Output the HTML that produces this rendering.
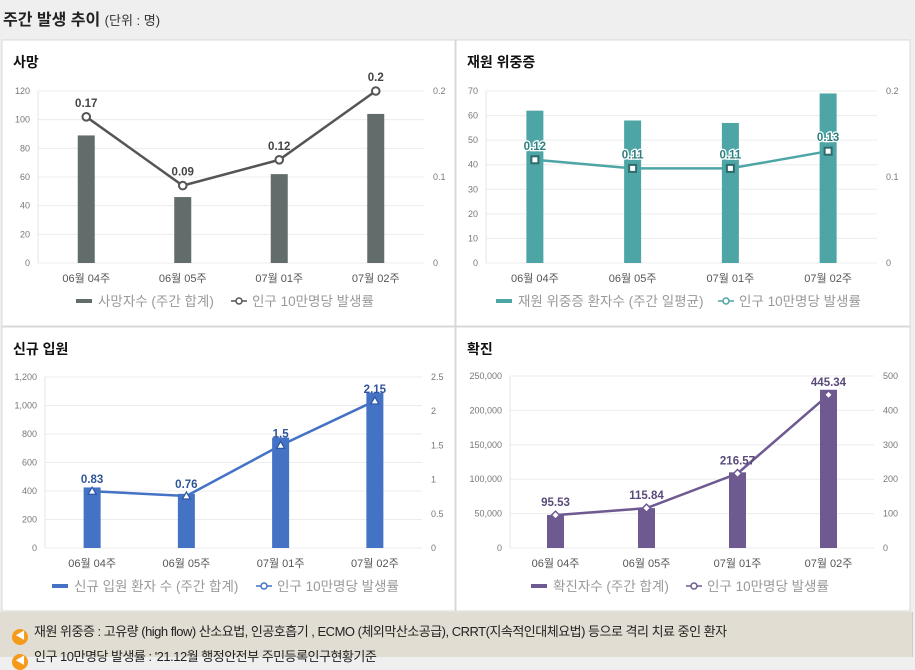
<!DOCTYPE html>
<html><head><meta charset="utf-8"><style>
body{margin:0;width:915px;height:657px;background:#efefef;font-family:"Liberation Sans","Noto Sans CJK KR",sans-serif;overflow:hidden;position:relative}
.hdr{position:absolute;left:3px;top:6px;font-size:16px;font-weight:bold;color:#222}
.hdr span{font-weight:normal;font-size:13px;color:#333}
.foot{position:absolute;left:0;top:612px;width:912px;height:45px;background:#e2ddd3;border-right:1px solid #ccc}
.fl{position:absolute;left:12px;font-size:13px;color:#222;letter-spacing:-0.5px;white-space:nowrap}
.ic{display:inline-block;width:16px;height:16px;border-radius:50%;background:#f59a1b;vertical-align:-3px;margin-right:6px;color:#fff;font-size:10px;text-align:center;line-height:16px}
</style></head><body>
<div class="hdr">주간 발생 추이 <span>(단위 : 명)</span></div>
<svg id="svg" width="915" height="657" style="position:absolute;left:0;top:0"></svg>
<div class="foot">
<div class="fl" style="top:9px"><span class="ic">◀</span>재원 위중증 : 고유량 (high flow) 산소요법, 인공호흡기 , ECMO (체외막산소공급), CRRT(지속적인대체요법) 등으로 격리 치료 중인 환자</div>
<div class="fl" style="top:34px"><span class="ic">◀</span>인구 10만명당 발생률 : '21.12월 행정안전부 주민등록인구현황기준</div>
</div>
<script>
const categories=["06월 04주","06월 05주","07월 01주","07월 02주"];
const deathBars=[89,46,62,104];
const deathRates=[0.17,0.09,0.12,0.2];
const deathTicks=["0","20","40","60","80","100","120"];
const deathRTicks=["0","0.1","0.2"];
const severeBars=[62,58,57,69];
const severeRates=[0.12,0.11,0.11,0.13];
const severeTicks=["0","10","20","30","40","50","60","70"];
const severeRTicks=["0","0.1","0.2"];
const admitBars=[425,380,775,1090];
const admitRates=[0.83,0.76,1.5,2.15];
const admitTicks=["0","200","400","600","800","1,000","1,200"];
const admitRTicks=["0","0.5","1","1.5","2","2.5"];
const caseBars=[48000,58000,110000,230000];
const caseRates=[95.53,115.84,216.57,445.34];
const caseTicks=["0","50,000","100,000","150,000","200,000","250,000"];
const caseRTicks=["0","100","200","300","400","500"];

const svg=document.getElementById('svg');
const NS='http://www.w3.org/2000/svg';
function mk(tag,attrs,txt){const e=document.createElementNS(NS,tag);for(const k in attrs)e.setAttribute(k,attrs[k]);if(txt!=null)e.textContent=txt;svg.appendChild(e);return e;}
const num=s=>parseFloat(s.replace(/,/g,''));

function panel(o){
  let r=mk('rect',{x:o.px,y:o.py,width:o.pw,height:o.ph,fill:'#fff',stroke:'#d8d8d8'});
  
  
  let t=mk('text',{x:o.px+11,y:o.py+27,'font-size':14,'font-weight':'bold',fill:'#111'},o.title);
  
  
  const lmax=num(o.ticks[o.ticks.length-1]), rmax=num(o.rticks[o.rticks.length-1]);
  const yL=v=>o.y0-(v/lmax)*(o.y0-o.y1);
  const yR=v=>o.y0-(v/rmax)*(o.y0-o.y1);
  const xC=i=>o.x0+(i+0.5)*(o.x1-o.x0)/categories.length;
  o.ticks.forEach(tk=>{const y=yL(num(tk));
    mk('line',{x1:o.x0,x2:o.x1,y1:y,y2:y,stroke:'#ececec'});
    let l=mk('text',{x:o.x0-8,y:y+3,'font-size':9,fill:'#777','text-anchor':'end'},tk);
    
    
  });
  o.rticks.forEach(tk=>{const y=yR(num(tk));
    let l=mk('text',{x:o.x1+9,y:y+3,'font-size':9,fill:'#777'},tk);
    
    
  });
  mk('line',{x1:o.x0,x2:o.x0,y1:o.y1,y2:o.y0,stroke:'#e4e4e4'});
  o.bars.forEach((v,i)=>{
    let b=mk('rect',{x:xC(i)-8.5,y:yL(v),width:17,height:o.y0-yL(v),fill:o.color});
    
    
  });
  mk('polyline',{points:o.rates.map((v,i)=>xC(i)+','+yR(v)).join(' '),fill:'none',stroke:o.lcolor,'stroke-width':2.5});
  o.rates.forEach((v,i)=>{
    const x=xC(i),y=yR(v);let m;
    if(o.marker==='circle')m=mk('circle',{cx:x,cy:y,r:3.8,fill:'#fff',stroke:o.lcolor,'stroke-width':2});
    else if(o.marker==='square')m=mk('rect',{x:x-3.5,y:y-3.5,width:7,height:7,fill:'#fff',stroke:'#2d6b6c','stroke-width':2});
    else if(o.marker==='tri')m=mk('polygon',{points:`${x},${y-4} ${x+4},${y+3} ${x-4},${y+3}`,fill:'#fff',stroke:'#2c56a0','stroke-width':1.2});
    else m=mk('polygon',{points:`${x},${y-4} ${x+4},${y} ${x},${y+4} ${x-4},${y}`,fill:'#fff',stroke:o.lcolor,'stroke-width':1.5});
    
    
    let l=mk('text',{x:x,y:y-o.lo,'font-size':11.5,'font-weight':'bold',fill:o.vcolor,'text-anchor':'middle',stroke:o.halo?'#fff':'none','stroke-width':o.halo?2.5:0,'paint-order':'stroke'},String(v));
    
    
  });
  categories.forEach((c,i)=>{
    let l=mk('text',{x:xC(i),y:o.y0+19,'font-size':11,fill:'#555','text-anchor':'middle'},c);
    
    
  });
  const ly=o.y0+41, lx=o.lx;
  let lb=mk('rect',{x:lx,y:ly-5,width:16,height:4,fill:o.color});
  
  
  let lt=mk('text',{x:lx+22,y:ly+2,'font-size':13.5,fill:'#999'},o.barLabel);
  
  
  const l2=lx+o.l2;
  mk('line',{x1:l2,x2:l2+16,y1:ly-3,y2:ly-3,stroke:o.lcolor,'stroke-width':1.5});
  mk('circle',{cx:l2+8,cy:ly-3,r:3,fill:'#fff',stroke:o.lcolor,'stroke-width':1.5});
  let lt2=mk('text',{x:l2+21,y:ly+2,'font-size':13.5,fill:'#999'},'인구 10만명당 발생률');
  
  
}
panel({name:'death',title:'사망',px:2,py:40,pw:453,ph:286,x0:38,x1:424,y0:263,y1:91,ticks:deathTicks,rticks:deathRTicks,bars:deathBars,rates:deathRates,color:'#616c6b',lcolor:'#555',vcolor:'#444',marker:'circle',lo:10,lx:76,l2:155,barLabel:'사망자수 (주간 합계)'});
panel({name:'severe',title:'재원 위중증',px:456,py:40,pw:454,ph:286,x0:486,x1:877,y0:263,y1:91,ticks:severeTicks,rticks:severeRTicks,bars:severeBars,rates:severeRates,color:'#4ea5a6',lcolor:'#4ea5a6',vcolor:'#2f7f80',marker:'square',lo:10,halo:true,lx:496,l2:222,barLabel:'재원 위중증 환자수 (주간 일평균)'});
panel({name:'admission',title:'신규 입원',px:2,py:327,pw:453,ph:284,x0:45,x1:422,y0:548,y1:377,ticks:admitTicks,rticks:admitRTicks,bars:admitBars,rates:admitRates,color:'#4472c4',lcolor:'#4472c4',vcolor:'#2f5597',marker:'tri',lo:8,lx:52,l2:204,barLabel:'신규 입원 환자 수 (주간 합계)'});
panel({name:'cases',title:'확진',px:456,py:327,pw:454,ph:284,x0:510,x1:874,y0:548,y1:376,ticks:caseTicks,rticks:caseRTicks,bars:caseBars,rates:caseRates,color:'#6e5a91',lcolor:'#6e5a91',vcolor:'#5a4a7a',marker:'diamond',lo:9,lx:531,l2:155,barLabel:'확진자수 (주간 합계)'});
</script>
</body></html>
